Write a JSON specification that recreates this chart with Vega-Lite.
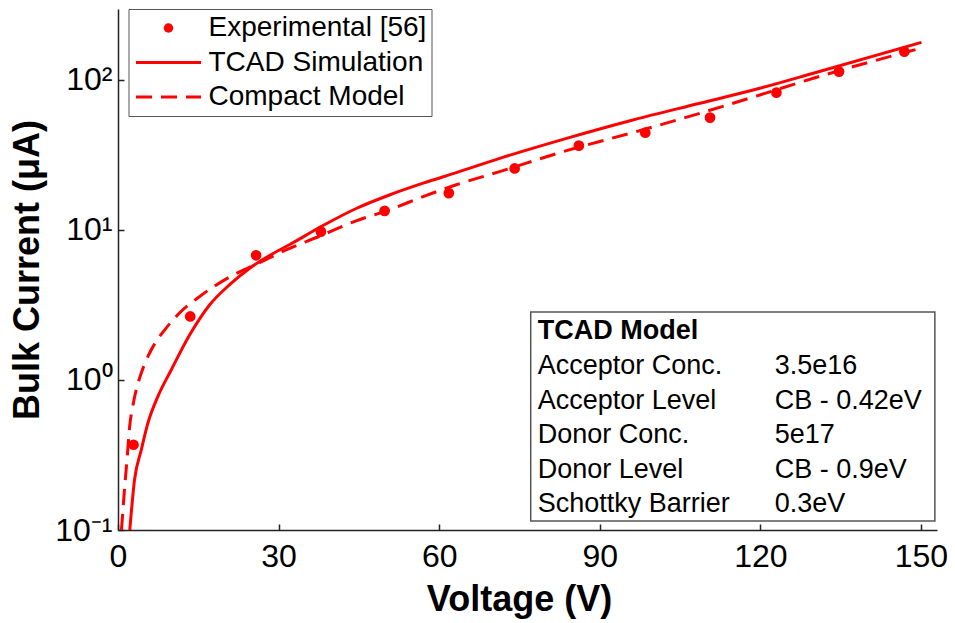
{
  "$schema": "https://vega.github.io/schema/vega-lite/v6.json",
  "autosize": {"type": "none"},
  "padding": {"left": 118, "top": 9, "right": 18, "bottom": 93},
  "width": 819,
  "height": 521,
  "background": "white",
  "config": {
    "font": "Liberation Sans",
    "view": {"stroke": null},
    "axis": {
      "grid": false,
      "domainColor": "#222222",
      "domainWidth": 1.5,
      "tickColor": "#222222",
      "tickWidth": 1.5,
      "tickSize": -6,
      "labelFlush": false,
      "labelColor": "black",
      "labelFontSize": 32,
      "labelFont": "Liberation Sans",
      "titleFont": "Liberation Sans",
      "titleFontSize": 36,
      "titleFontWeight": "bold",
      "titleColor": "black"
    }
  },
  "data": {
    "values": [
      {"series": "Experimental [56]", "v": 2.9, "i": 0.37},
      {"series": "Experimental [56]", "v": 13.5, "i": 2.65},
      {"series": "Experimental [56]", "v": 25.8, "i": 6.78},
      {"series": "Experimental [56]", "v": 37.9, "i": 9.75},
      {"series": "Experimental [56]", "v": 49.8, "i": 13.4},
      {"series": "Experimental [56]", "v": 61.8, "i": 17.6},
      {"series": "Experimental [56]", "v": 74.1, "i": 25.7},
      {"series": "Experimental [56]", "v": 86.1, "i": 36.5},
      {"series": "Experimental [56]", "v": 98.5, "i": 44.5},
      {"series": "Experimental [56]", "v": 110.6, "i": 56.1},
      {"series": "Experimental [56]", "v": 123.0, "i": 82.3},
      {"series": "Experimental [56]", "v": 134.7, "i": 113.6},
      {"series": "Experimental [56]", "v": 146.9, "i": 154.4},
      {"series": "TCAD Simulation", "v": 2.2, "i": 0.1},
      {"series": "TCAD Simulation", "v": 3.08, "i": 0.215},
      {"series": "TCAD Simulation", "v": 4.34, "i": 0.341},
      {"series": "TCAD Simulation", "v": 5.57, "i": 0.514},
      {"series": "TCAD Simulation", "v": 7.44, "i": 0.774},
      {"series": "TCAD Simulation", "v": 9.94, "i": 1.166},
      {"series": "TCAD Simulation", "v": 13.4, "i": 2.0},
      {"series": "TCAD Simulation", "v": 17.1, "i": 3.16},
      {"series": "TCAD Simulation", "v": 20.8, "i": 4.3},
      {"series": "TCAD Simulation", "v": 24.6, "i": 5.56},
      {"series": "TCAD Simulation", "v": 28.3, "i": 6.75},
      {"series": "TCAD Simulation", "v": 32.1, "i": 8.0},
      {"series": "TCAD Simulation", "v": 38.3, "i": 10.7},
      {"series": "TCAD Simulation", "v": 44.5, "i": 13.9},
      {"series": "TCAD Simulation", "v": 50.7, "i": 17.1},
      {"series": "TCAD Simulation", "v": 57.0, "i": 20.5},
      {"series": "TCAD Simulation", "v": 63.2, "i": 24.1},
      {"series": "TCAD Simulation", "v": 71.3, "i": 30.0},
      {"series": "TCAD Simulation", "v": 83.8, "i": 40.8},
      {"series": "TCAD Simulation", "v": 96.2, "i": 54.1},
      {"series": "TCAD Simulation", "v": 108.7, "i": 69.9},
      {"series": "TCAD Simulation", "v": 119.9, "i": 88.0},
      {"series": "TCAD Simulation", "v": 129.9, "i": 110.8},
      {"series": "TCAD Simulation", "v": 150.1, "i": 178},
      {"series": "Compact Model", "v": 0.65, "i": 0.1},
      {"series": "Compact Model", "v": 1.3, "i": 0.204},
      {"series": "Compact Model", "v": 1.74, "i": 0.312},
      {"series": "Compact Model", "v": 2.15, "i": 0.48},
      {"series": "Compact Model", "v": 2.8, "i": 0.68},
      {"series": "Compact Model", "v": 3.4, "i": 0.86},
      {"series": "Compact Model", "v": 4.3, "i": 1.1},
      {"series": "Compact Model", "v": 5.3, "i": 1.36},
      {"series": "Compact Model", "v": 7.0, "i": 1.78},
      {"series": "Compact Model", "v": 8.7, "i": 2.15},
      {"series": "Compact Model", "v": 11.5, "i": 2.8},
      {"series": "Compact Model", "v": 15.2, "i": 3.59},
      {"series": "Compact Model", "v": 21.5, "i": 5.0},
      {"series": "Compact Model", "v": 25.8, "i": 5.9},
      {"series": "Compact Model", "v": 31.4, "i": 7.36},
      {"series": "Compact Model", "v": 37.7, "i": 9.1},
      {"series": "Compact Model", "v": 44.5, "i": 11.5},
      {"series": "Compact Model", "v": 50.7, "i": 13.6},
      {"series": "Compact Model", "v": 57.0, "i": 16.7},
      {"series": "Compact Model", "v": 63.2, "i": 20.0},
      {"series": "Compact Model", "v": 71.3, "i": 24.5},
      {"series": "Compact Model", "v": 83.8, "i": 33.8},
      {"series": "Compact Model", "v": 96.2, "i": 44.6},
      {"series": "Compact Model", "v": 108.7, "i": 59.9},
      {"series": "Compact Model", "v": 119.9, "i": 79.4},
      {"series": "Compact Model", "v": 129.9, "i": 102.6},
      {"series": "Compact Model", "v": 149.5, "i": 161}
    ]
  },
  "layer": [
    {
      "transform": [{"filter": "datum.series === 'TCAD Simulation'"}],
      "mark": {"type": "line", "strokeWidth": 3, "clip": true, "interpolate": "monotone"},
      "encoding": {
        "x": {"field": "v", "type": "quantitative", "scale": {"domain": [0, 153], "nice": false, "zero": false},
              "axis": {"values": [0, 30, 60, 90, 120, 150], "labelPadding": 17, "title": "Voltage (V)", "titlePadding": 10, "titleX": 401}},
        "y": {"field": "i", "type": "quantitative", "scale": {"type": "log", "domain": [0.1, 297], "nice": false},
              "axis": {"values": [0.1, 1, 10, 100], "labelPadding": 12, "title": "Bulk Current (μA)", "titlePadding": 8,
                       "labelExpr": "datum.value >= 50 ? '10²' : datum.value >= 5 ? '10¹' : datum.value >= 0.5 ? '10⁰' : '10⁻¹'"}},
        "color": {
          "field": "series", "type": "nominal",
          "scale": {"domain": ["Experimental [56]", "TCAD Simulation", "Compact Model"], "range": ["#ff0000", "#ff0000", "#ff0000"]},
          "legend": {
            "orient": "none", "legendX": 10.5, "legendY": 0, "title": null,
            "strokeColor": "#555555", "fillColor": "white", "padding": 5,
            "labelFontSize": 28, "labelColor": "black", "labelFont": "Liberation Sans",
            "labelOffset": 26, "symbolOffset": 21, "rowPadding": 6.5, "symbolType": "stroke", "symbolSize": 4225, "symbolStrokeWidth": 3,
            "labelLimit": 400,
            "encode": {
              "symbols": {
                "update": {
                  "shape": {"signal": "datum.value === 'Experimental [56]' ? 'circle' : 'stroke'"},
                  "size": {"signal": "datum.value === 'Experimental [56]' ? 90 : 4225"},
                  "fill": {"signal": "datum.value === 'Experimental [56]' ? '#ff0000' : 'transparent'"},
                  "stroke": {"value": "#ff0000"},
                  "strokeWidth": {"signal": "datum.value === 'Experimental [56]' ? 0 : 3"},
                  "strokeDash": {"signal": "datum.value === 'Compact Model' ? [16, 9] : [1, 0]"},
                  "opacity": {"value": 1}
                }
              }
            }
          }
        }
      }
    },
    {
      "transform": [{"filter": "datum.series === 'Compact Model'"}],
      "mark": {"type": "line", "strokeWidth": 3, "strokeDash": [16, 9], "clip": true, "interpolate": "monotone"},
      "encoding": {
        "x": {"field": "v", "type": "quantitative"},
        "y": {"field": "i", "type": "quantitative"},
        "color": {"field": "series", "type": "nominal"}
      }
    },
    {
      "transform": [{"filter": "datum.series === 'Experimental [56]'"}],
      "mark": {"type": "point", "filled": true, "size": 115, "opacity": 1, "shape": "circle"},
      "encoding": {
        "x": {"field": "v", "type": "quantitative"},
        "y": {"field": "i", "type": "quantitative"},
        "color": {"field": "series", "type": "nominal"}
      }
    },
    {
      "data": {"values": [{"box": "TCAD Model"}]},
      "mark": {"type": "rect", "fill": "white", "stroke": "#555555", "strokeWidth": 1.5},
      "encoding": {
        "x": {"datum": 77.1, "type": "quantitative"},
        "x2": {"datum": 152.6},
        "y": {"datum": 2.84, "type": "quantitative"},
        "y2": {"datum": 0.1148}
      }
    },
    {
      "data": {"values": [{"title": "TCAD Model"}]},
      "mark": {"type": "text", "align": "left", "baseline": "alphabetic", "fontSize": 27, "fontWeight": "bold", "color": "black"},
      "encoding": {
        "x": {"datum": 78.4, "type": "quantitative"},
        "y": {"datum": 1.877, "type": "quantitative"},
        "text": {"field": "title", "type": "nominal"}
      }
    },
    {
      "data": {"values": [{"lines": ["Acceptor Conc.", "Acceptor Level", "Donor Conc.", "Donor Level", "Schottky Barrier"]}]},
      "mark": {"type": "text", "align": "left", "baseline": "alphabetic", "fontSize": 27, "lineHeight": 34.5, "color": "black"},
      "encoding": {
        "x": {"datum": 78.4, "type": "quantitative"},
        "y": {"datum": 1.096, "type": "quantitative"},
        "text": {"field": "lines", "type": "nominal"}
      }
    },
    {
      "data": {"values": [{"lines": ["3.5e16", "CB - 0.42eV", "5e17", "CB - 0.9eV", "0.3eV"]}]},
      "mark": {"type": "text", "align": "left", "baseline": "alphabetic", "fontSize": 27, "lineHeight": 34.5, "color": "black"},
      "encoding": {
        "x": {"datum": 122.7, "type": "quantitative"},
        "y": {"datum": 1.096, "type": "quantitative"},
        "text": {"field": "lines", "type": "nominal"}
      }
    }
  ]
}
